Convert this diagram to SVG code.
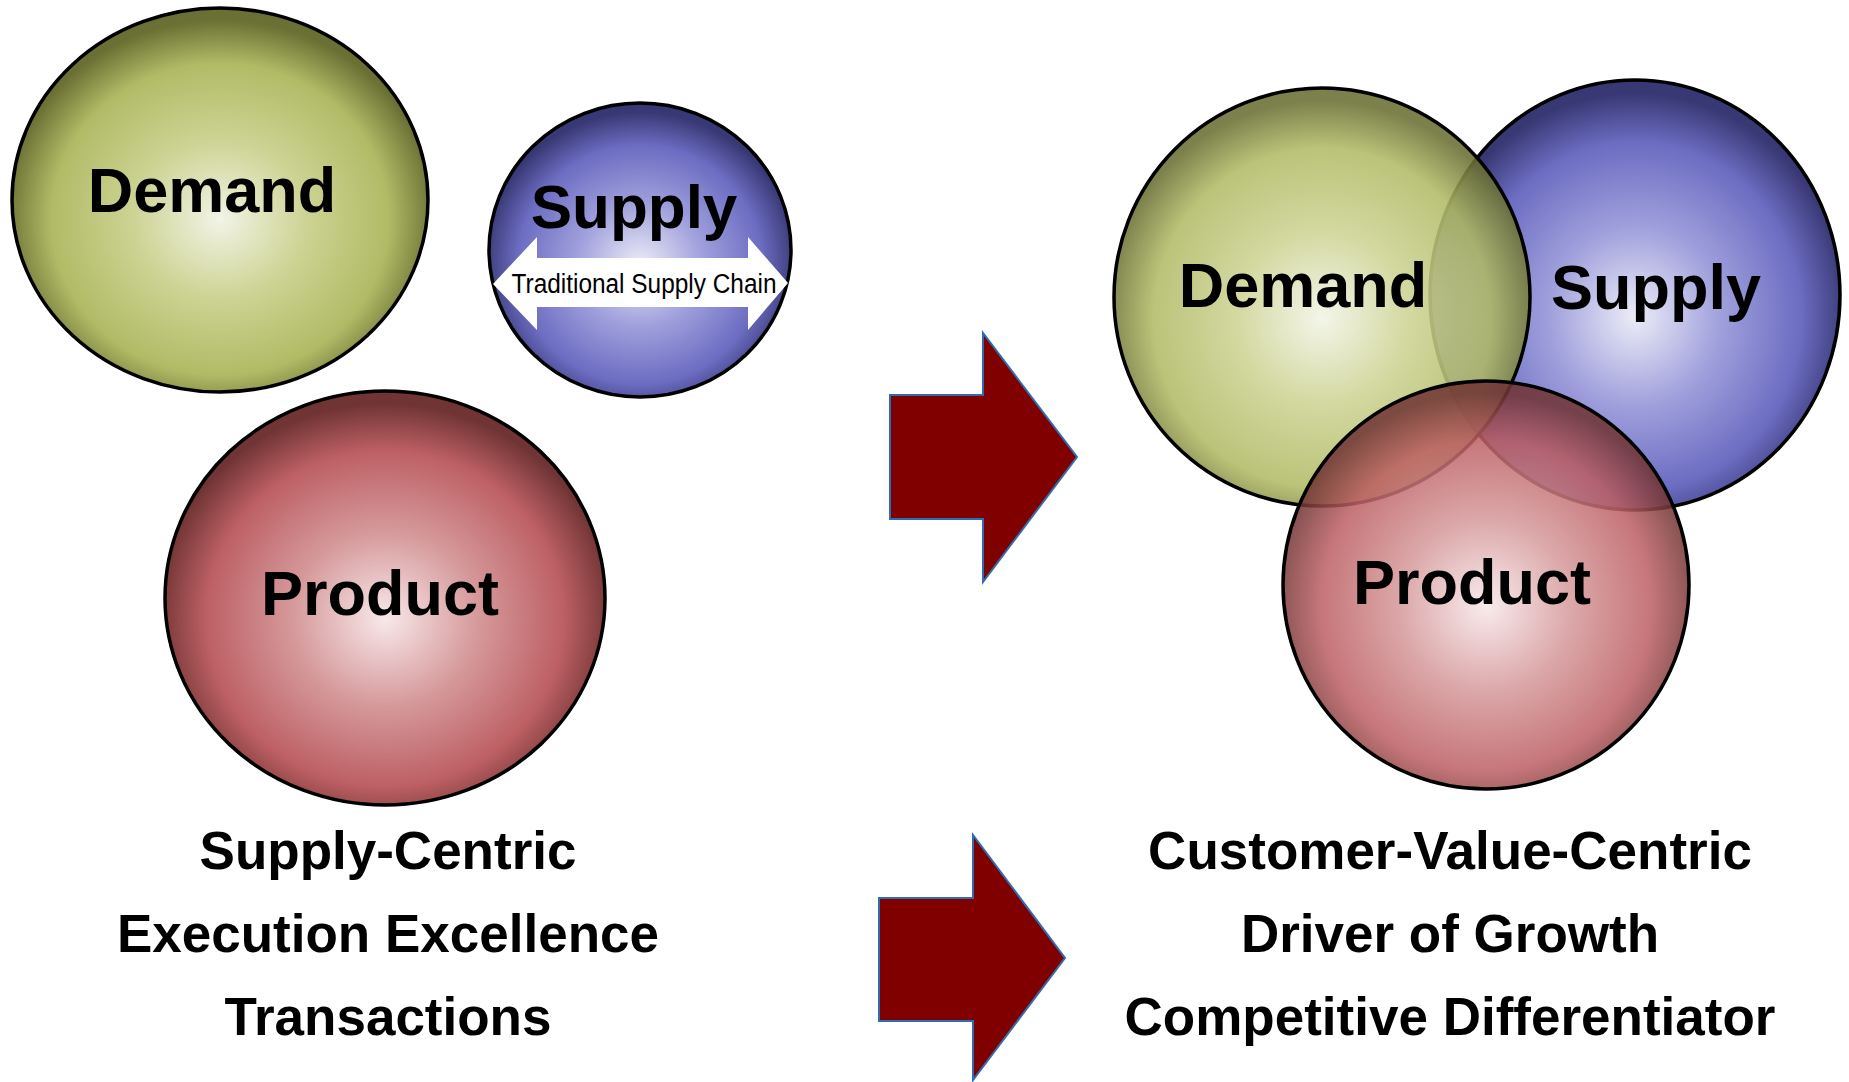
<svg xmlns="http://www.w3.org/2000/svg" width="1849" height="1082" viewBox="0 0 1849 1082">
<style>
.lbl{font-family:"Liberation Sans",Arial,sans-serif;font-weight:bold;fill:#000;text-anchor:middle}
.big{font-size:63px}
.cap{font-size:53px}
.ring{stroke:#000;stroke-width:3.5}
.arrow{fill:#800000;stroke:#2e6db4;stroke-width:2}
</style>
<defs>
<radialGradient id="gG" cx="50%" cy="55%" r="52%">
<stop offset="0" stop-color="#f2f4e6"/>
<stop offset="0.4" stop-color="#cdd393"/>
<stop offset="0.78" stop-color="#b1bb66"/>
<stop offset="1" stop-color="#6a6f33"/>
</radialGradient>
<radialGradient id="gB" cx="50%" cy="55%" r="52%">
<stop offset="0" stop-color="#ececf7"/>
<stop offset="0.4" stop-color="#a0a0dd"/>
<stop offset="0.78" stop-color="#6c6cc2"/>
<stop offset="1" stop-color="#383874"/>
</radialGradient>
<radialGradient id="gR" cx="50%" cy="55%" r="52%">
<stop offset="0" stop-color="#f8e8ea"/>
<stop offset="0.4" stop-color="#d69a9c"/>
<stop offset="0.78" stop-color="#bd6064"/>
<stop offset="1" stop-color="#703434"/>
</radialGradient>
</defs>

<g id="left-demand">
<ellipse class="ring" cx="220" cy="200" rx="208" ry="192" fill="url(#gG)"/>
<text class="lbl big" x="212" y="212">Demand</text>
</g>
<g id="left-supply">
<ellipse class="ring" cx="640" cy="250" rx="151" ry="147" fill="url(#gB)"/>
<text class="lbl" x="634" y="228" font-size="62">Supply</text>
<polygon points="493,284 537,237 537,258 748,258 748,237 788,283 748,330 748,307 537,307 537,330" fill="#fff"/>
<text x="644" y="293" font-family="'Liberation Sans',Arial,sans-serif" font-size="27" text-anchor="middle" textLength="265" lengthAdjust="spacingAndGlyphs">Traditional Supply Chain</text>
</g>
<g id="left-product">
<ellipse class="ring" cx="385" cy="598" rx="220" ry="207" fill="url(#gR)"/>
<text class="lbl big" x="380" y="615">Product</text>
</g>

<g id="right-supply">
<ellipse class="ring" cx="1635" cy="295" rx="205" ry="215" fill="url(#gB)"/>
</g>
<g id="right-demand">
<ellipse class="ring" cx="1322" cy="297" rx="208" ry="209" fill="url(#gG)" fill-opacity="0.88"/>
</g>
<g id="right-product">
<ellipse class="ring" cx="1486" cy="585" rx="203" ry="204" fill="url(#gR)" fill-opacity="0.86"/>
</g>
<g id="right-labels">
<text class="lbl big" x="1303" y="307">Demand</text>
<text class="lbl big" x="1656" y="309">Supply</text>
<text class="lbl big" x="1472" y="604">Product</text>
</g>

<g id="connectors">
<polygon class="arrow" points="890,395 983,395 983,333 1077,457 983,582 983,519 890,519"/>
<polygon class="arrow" points="879,898 973,898 973,835 1065,958 973,1080 973,1021 879,1021"/>
</g>

<g id="left-captions">
<text class="lbl cap" x="388" y="869">Supply-Centric</text>
<text class="lbl cap" x="388" y="952">Execution Excellence</text>
<text class="lbl cap" x="388" y="1035">Transactions</text>
</g>
<g id="right-captions">
<text class="lbl cap" x="1450" y="869">Customer-Value-Centric</text>
<text class="lbl cap" x="1450" y="952">Driver of Growth</text>
<text class="lbl cap" x="1450" y="1035">Competitive Differentiator</text>
</g>
</svg>
